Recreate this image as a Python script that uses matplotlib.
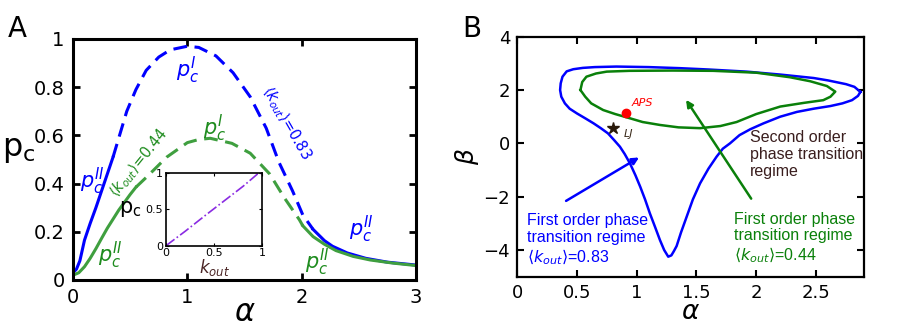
import matplotlib
matplotlib.use("Agg")
import matplotlib.pyplot as plt

# ---------------- Panel A data ----------------
blue_solid_l_a = [0, 0.03, 0.06, 0.1, 0.15, 0.2, 0.25, 0.3, 0.35]
blue_solid_l_p = [0.03, 0.045, 0.08, 0.165, 0.235, 0.30, 0.37, 0.44, 0.51]
blue_dash_a = [0.35, 0.47, 0.55, 0.64, 0.75, 0.85, 1.0, 1.1, 1.25, 1.4, 1.55, 1.69, 1.8, 1.92, 2.01, 2.1]
blue_dash_p = [0.51, 0.70, 0.79, 0.87, 0.925, 0.955, 0.97, 0.965, 0.93, 0.86, 0.76, 0.63, 0.49, 0.37, 0.27, 0.21]
blue_solid_r_a = [2.1, 2.2, 2.27, 2.4, 2.56, 2.75, 3.0]
blue_solid_r_p = [0.21, 0.163, 0.14, 0.112, 0.09, 0.074, 0.062]

green_solid_l_a = [0, 0.05, 0.1, 0.15, 0.2, 0.25, 0.3, 0.4, 0.5, 0.55]
green_solid_l_p = [0.02, 0.03, 0.055, 0.09, 0.13, 0.173, 0.215, 0.29, 0.355, 0.385]
green_dash_a = [0.55, 0.65, 0.82, 1.0, 1.1, 1.2, 1.39, 1.55, 1.72, 1.85, 1.98, 2.01]
green_dash_p = [0.385, 0.43, 0.51, 0.57, 0.583, 0.588, 0.567, 0.526, 0.44, 0.34, 0.25, 0.225]
green_solid_r_a = [2.01, 2.1, 2.2, 2.3, 2.45, 2.6, 2.8, 3.0]
green_solid_r_p = [0.225, 0.18, 0.148, 0.122, 0.098, 0.083, 0.07, 0.06]

inset_k = [0, 0.2, 0.4, 0.6, 0.8, 0.95, 1.0]
inset_p = [0.0, 0.2, 0.41, 0.615, 0.82, 0.99, 1.0]

# ---------------- Panel B data ----------------
blue_loop_a = [2.87, 2.82, 2.75, 2.6, 2.48, 2.2, 1.92, 1.6, 1.36, 1.1, 0.83, 0.65, 0.55, 0.47, 0.415,
               0.38, 0.365, 0.36, 0.37, 0.40, 0.44, 0.50, 0.57, 0.64, 0.70, 0.76, 0.81, 0.86, 0.90,
               0.944, 0.99, 1.03, 1.07, 1.11, 1.155, 1.195, 1.23, 1.264, 1.29, 1.31, 1.334, 1.37,
               1.418, 1.47, 1.53, 1.60, 1.668, 1.72, 1.78, 1.86, 1.95, 2.06, 2.2, 2.34, 2.48, 2.62,
               2.72, 2.8, 2.85, 2.87]
blue_loop_b = [1.93, 2.12, 2.22, 2.36, 2.45, 2.58, 2.69, 2.77, 2.82, 2.86, 2.88, 2.86, 2.83, 2.78, 2.7,
               2.5, 2.25, 2.0, 1.75, 1.5, 1.3, 1.125, 0.94, 0.75, 0.57, 0.375, 0.13, -0.125, -0.4,
               -0.75, -1.2, -1.63, -2.1, -2.62, -3.15, -3.63, -4.0, -4.25, -4.2, -4.05, -3.85, -3.35,
               -2.75, -2.1, -1.5, -0.95, -0.5, -0.2, 0.0, 0.31, 0.53, 0.75, 1.0, 1.18, 1.3, 1.4,
               1.5, 1.62, 1.78, 1.93]
green_loop_a = [0.53, 0.545, 0.58, 0.66, 0.75, 0.94, 1.3, 1.64, 2.0, 2.28, 2.45, 2.59, 2.66, 2.62, 2.56,
                2.4, 2.2, 2.0, 1.835, 1.7, 1.53, 1.35, 1.195, 1.05, 0.944, 0.82, 0.72, 0.62, 0.57, 0.53]
green_loop_b = [2.0, 2.3, 2.5, 2.62, 2.69, 2.72, 2.73, 2.72, 2.65, 2.48, 2.33, 2.15, 1.94, 1.75, 1.62,
                1.52, 1.38, 1.1, 0.80, 0.65, 0.57, 0.6, 0.69, 0.8, 0.94, 1.1, 1.25, 1.5, 1.75, 2.0]
aps_point = (0.91, 1.125)
lj_point = (0.80, 0.59)

BLUE = "#0000ff"
GREEN_A = "#3f9f3f"
GREEN_T = "#1e8c1e"
GREEN_B = "#0a800a"
BROWN = "#3a1e1e"

fig = plt.figure(figsize=(9.13, 3.25), dpi=100)

# ---------------- Panel A ----------------
axA = fig.add_axes([0.080, 0.1385, 0.3756, 0.7415])
axA.plot(blue_solid_l_a, blue_solid_l_p, color=BLUE, lw=2.2)
axA.plot(blue_dash_a, blue_dash_p, color=BLUE, lw=2.2, dashes=(4.5, 2.5))
axA.plot(blue_solid_r_a, blue_solid_r_p, color=BLUE, lw=2.2)
axA.plot(green_solid_l_a, green_solid_l_p, color=GREEN_A, lw=2.2)
axA.plot(green_dash_a, green_dash_p, color=GREEN_A, lw=2.2, dashes=(4.5, 2.5))
axA.plot(green_solid_r_a, green_solid_r_p, color=GREEN_A, lw=2.2)
axA.set_xlim(0, 3)
axA.set_ylim(0, 1)
axA.set_xticks([0, 1, 2, 3])
axA.set_yticks([0, 0.2, 0.4, 0.6, 0.8, 1.0])
axA.set_yticklabels(["0", "0.2", "0.4", "0.6", "0.8", "1"])
axA.tick_params(direction="in", top=True, right=True, labelsize=14, width=2, length=5, pad=6)
for s in axA.spines.values():
    s.set_linewidth(2.2)
axA.set_xlabel(r"$\alpha$", fontsize=22, labelpad=-7)
fig.text(0.021, 0.54, r"$\mathregular{p_c}$", fontsize=23, ha="center", va="center")

tkw = dict(fontsize=15, ha="center", va="center")
axA.text(0.17, 0.41, r"$p_c^{II}$", color=BLUE, **tkw)
axA.text(1.0, 0.87, r"$p_c^{I}$", color=BLUE, **tkw)
axA.text(1.24, 0.63, r"$p_c^{I}$", color=GREEN_T, **tkw)
axA.text(0.33, 0.10, r"$p_c^{II}$", color=GREEN_T, **tkw)
axA.text(2.52, 0.21, r"$p_c^{II}$", color=BLUE, **tkw)
axA.text(2.14, 0.075, r"$p_c^{II}$", color=GREEN_T, **tkw)
axA.text(0.58, 0.485, r"$\langle k_{out}\rangle$=0.44", color=GREEN_T, fontsize=10.5,
         rotation=51, ha="center", va="center", rotation_mode="anchor")
axA.text(1.87, 0.65, r"$\langle k_{out}\rangle$=0.83", color=BLUE, fontsize=10.5,
         rotation=-60, ha="center", va="center", rotation_mode="anchor")
fig.text(0.008, 0.955, "A", fontsize=20, ha="left", va="top")

# inset
axI = fig.add_axes([0.1818, 0.244, 0.1055, 0.2228])
axI.plot(inset_k, inset_p, color="#8a2be2", lw=1.2, linestyle="-.")
axI.set_xlim(0, 1)
axI.set_ylim(0, 1)
axI.set_xticks([0, 0.5, 1])
axI.set_yticks([0, 0.5, 1])
axI.set_xticklabels(["0", "0.5", "1"])
axI.set_yticklabels(["0", "0.5", "1"])
axI.tick_params(direction="in", top=True, right=True, labelsize=8, length=2, pad=2)
for s in axI.spines.values():
    s.set_linewidth(1.2)
axI.set_xlabel(r"$k_{out}$", fontsize=12, color="#4a2424", labelpad=-1)
axI.set_ylabel(r"$\mathregular{p_c}$", fontsize=15, rotation=0, labelpad=11, va="center")

# ---------------- Panel B ----------------
axB = fig.add_axes([0.5663, 0.1486, 0.380, 0.7385])
axB.plot(blue_loop_a, blue_loop_b, color=BLUE, lw=1.8)
axB.plot(green_loop_a, green_loop_b, color=GREEN_B, lw=1.8)
axB.plot(*aps_point, "o", color="red", markersize=6)
axB.plot(*lj_point, "*", color="#2a1a0a", markersize=9)
axB.text(0.96, 1.53, "APS", color="red", fontsize=8, style="italic", ha="left", va="center")
axB.text(0.89, 0.35, "LJ", color="#3a2a1a", fontsize=8, style="italic", ha="left", va="center")
axB.annotate("", xy=(1.04, -0.475), xytext=(0.39, -2.21),
             arrowprops=dict(arrowstyle="-|>", color=BLUE, lw=1.8, mutation_scale=10))
axB.annotate("", xy=(1.40, 1.72), xytext=(1.97, -2.16),
             arrowprops=dict(arrowstyle="-|>", color=GREEN_B, lw=1.8, mutation_scale=10))
fkw = dict(family=["Liberation Sans", "DejaVu Sans"], fontsize=11.5, ha="left", va="top",
           linespacing=1.15)
axB.text(0.08, -2.62, "First order phase\ntransition regime\n" + r"$\langle k_{out}\rangle$=0.83",
         color=BLUE, **fkw)
axB.text(1.81, -2.56, "First order phase\ntransition regime\n" + r"$\langle k_{out}\rangle$=0.44",
         color=GREEN_B, **fkw)
axB.text(1.95, 0.50, "Second order\nphase transition\nregime", color=BROWN, clip_on=True, **fkw)
axB.set_xlim(0, 2.9)
axB.set_ylim(-5, 4)
axB.set_xticks([0, 0.5, 1, 1.5, 2, 2.5])
axB.set_xticklabels(["0", "0.5", "1", "1.5", "2", "2.5"])
axB.set_yticks([-4, -2, 0, 2, 4])
axB.set_yticklabels(["\u22124", "\u22122", "0", "2", "4"])
axB.tick_params(direction="in", top=True, right=True, labelsize=13, width=1.5, length=5, pad=5)
for s in axB.spines.values():
    s.set_linewidth(1.6)
axB.set_xlabel(r"$\alpha$", fontsize=19, labelpad=-2)
axB.set_ylabel(r"$\beta$", fontsize=18, labelpad=2)
fig.text(0.506, 0.955, "B", fontsize=20, ha="left", va="top")

fig.savefig("out.png", dpi=100)
